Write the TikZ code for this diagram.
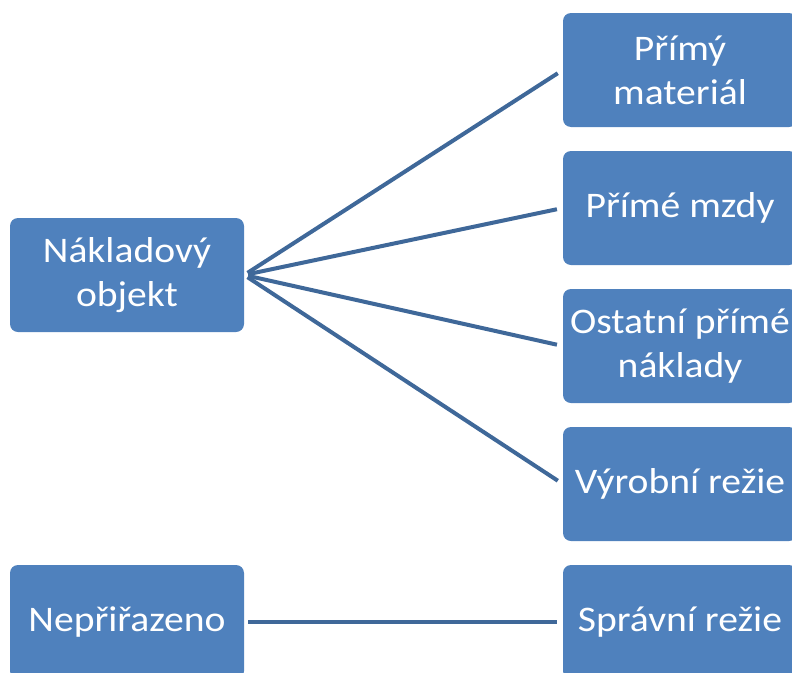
\documentclass[tikz,border=0pt]{standalone}
\usepackage{fontspec}
\setmainfont[FakeStretch=1.1]{Carlito}
\usetikzlibrary{calc}
\definecolor{boxblue}{HTML}{4F81BD}
\definecolor{linkblue}{HTML}{3F6899}
\begin{document}
\begin{tikzpicture}[x=1pt,y=-1pt,
  cbox/.style={draw=none, fill=boxblue, rounded corners=8pt, minimum width=234pt, minimum height=114pt,
    text=white, align=center, inner sep=0pt, font=\fontsize{36}{44}\selectfont},
  link/.style={draw=linkblue, line width=4pt, shorten <=4pt, shorten >=6pt}]
\useasboundingbox (0,0) rectangle (792,672);
\clip (0,0) rectangle (792,672);
\node[cbox] (obj) at (127,275) {Nákladový\\objekt};
\node[cbox] (nep) at (127,622) {Nepřiřazeno};
\node[cbox] (r1) at (680,70) {Přímý\\materiál};
\node[cbox] (r2) at (680,208) {Přímé mzdy};
\node[cbox] (r3) at (680,346) {Ostatní přímé\\náklady};
\node[cbox] (r4) at (680,484) {Výrobní režie};
\node[cbox] (r5) at (680,622) {Správní režie};
\draw[link] (obj.east) -- (r1.west);
\draw[link] (obj.east) -- (r2.west);
\draw[link] (obj.east) -- (r3.west);
\draw[link] (obj.east) -- (r4.west);
\draw[link] (nep.east) -- (r5.west);
\end{tikzpicture}
\end{document}
